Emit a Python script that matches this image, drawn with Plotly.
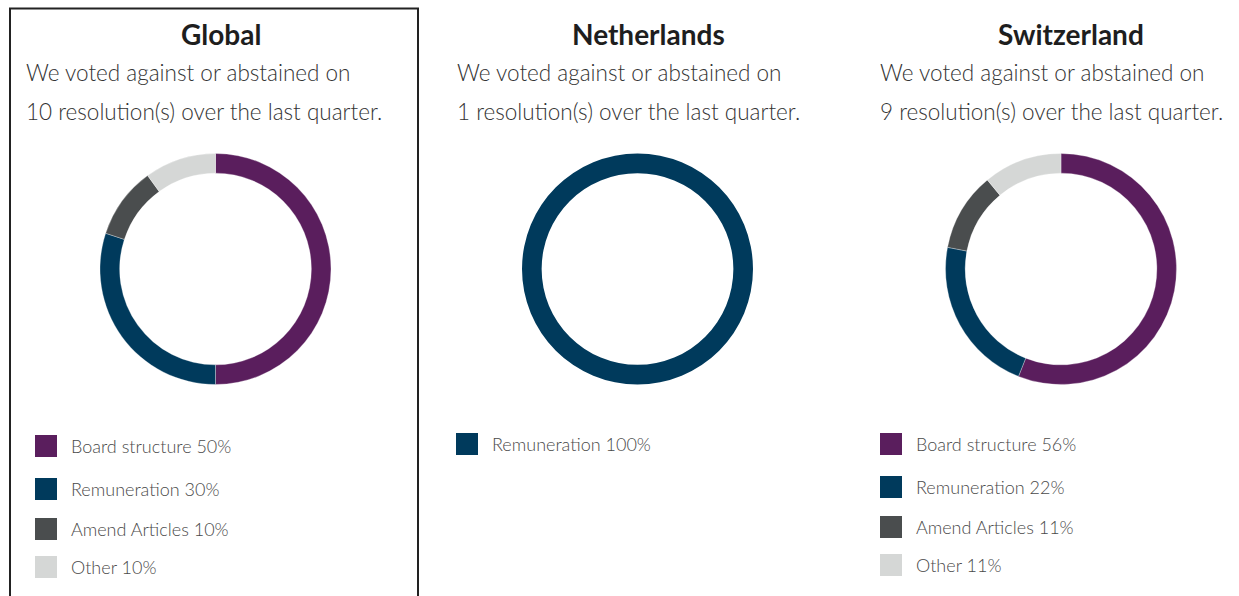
import plotly.graph_objects as go

W, H = 1239, 596

regions = ["Global", "Netherlands", "Switzerland"]
resolutions = [10, 1, 9]
categories = ["Board structure", "Remuneration", "Amend Articles", "Other"]
global_values = [50, 30, 10, 10]
netherlands_values = [0, 100, 0, 0]
switzerland_values = [56, 22, 11, 11]
all_values = [global_values, netherlands_values, switzerland_values]
colors = ["#5a1e5d", "#003a5c", "#4a4d4e", "#d5d7d6"]

# layout (pixels)
centers_x = [215.5, 637.5, 1061]
center_y = 269
radius = 115.5
title_x = [221, 648, 1071]
text_left = [24, 455, 878]
legend_sq_x = [35, 456, 880]
legend_rows_y = [[446, 489, 529, 567], [444], [444, 487, 527, 565]]

def px(x):
    return x / W

def py(y):
    return 1 - y / H

fig = go.Figure()
annotations = []
shapes = []

for i, reg in enumerate(regions):
    vals = all_values[i]
    labs = [c for c, v in zip(categories, vals) if v > 0]
    cols = [col for col, v in zip(colors, vals) if v > 0]
    nz = [v for v in vals if v > 0]
    fig.add_trace(go.Pie(
        labels=labs, values=nz, hole=0.83, sort=False,
        direction="clockwise", rotation=0,
        marker=dict(colors=cols, line=dict(color="white", width=0.3 if len(nz) > 1 else 0)),
        textinfo="none", hoverinfo="label+percent", showlegend=False,
        domain=dict(x=[px(centers_x[i] - radius), px(centers_x[i] + radius)],
                    y=[py(center_y + radius), py(center_y - radius)]),
    ))
    annotations.append(dict(x=px(title_x[i]), y=py(34), xref="paper", yref="paper",
                            text="<b>%s</b>" % reg, showarrow=False,
                            xanchor="center", yanchor="middle",
                            font=dict(family="Lato", size=28, color="#1e1e1e")))
    for j, line in enumerate(["We voted against or abstained on",
                              "%d resolution(s) over the last quarter." % resolutions[i]]):
        annotations.append(dict(x=px(text_left[i]), y=py(73 + 38 * j), xref="paper", yref="paper",
                                text=line, showarrow=False, xanchor="left", yanchor="middle",
                                font=dict(family="Lato", size=22.5, color="#333333", weight=300)))
    k = 0
    for c, v in enumerate(vals):
        if v <= 0:
            continue
        yc = legend_rows_y[i][k]
        k += 1
        shapes.append(dict(type="rect", xref="paper", yref="paper",
                           x0=px(legend_sq_x[i]), x1=px(legend_sq_x[i] + 22),
                           y0=py(yc + 11), y1=py(yc - 11),
                           fillcolor=colors[c], line=dict(width=0)))
        annotations.append(dict(x=px(legend_sq_x[i] + 34), y=py(yc), xref="paper", yref="paper",
                                text="%s %d%%" % (categories[c], v), showarrow=False,
                                xanchor="left", yanchor="middle",
                                font=dict(family="Lato", size=18, color="#4a4a4a", weight=300)))

# frame around Global panel
shapes.append(dict(type="rect", xref="paper", yref="paper",
                   x0=px(10), x1=px(418), y0=py(610), y1=py(8.5),
                   line=dict(color="#222222", width=2), fillcolor="rgba(0,0,0,0)"))

fig.update_layout(width=W, height=H, margin=dict(l=0, r=0, t=0, b=0),
                  paper_bgcolor="white", plot_bgcolor="white",
                  annotations=annotations, shapes=shapes)

fig.write_html("out.html", config={"displayModeBar": False},
               post_script="document.body.style.margin='0';document.body.style.overflow='hidden';")
